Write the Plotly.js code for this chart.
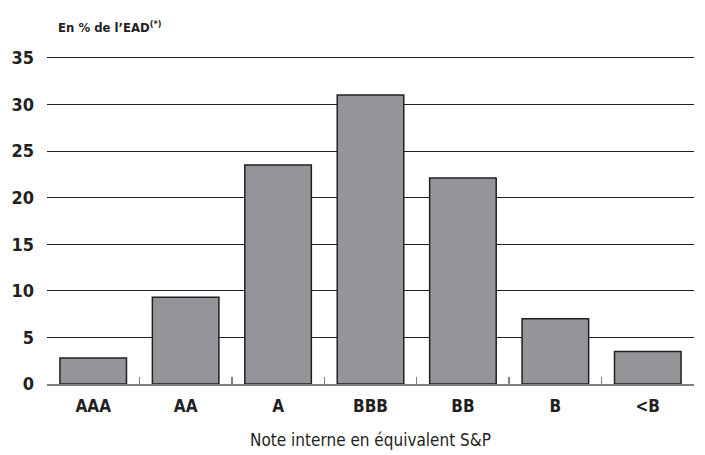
<!DOCTYPE html>
<html><head><meta charset="utf-8">
<script src="https://cdn.plot.ly/plotly-3.0.1.min.js"></script>
<style>body{margin:0;padding:0;background:#fff}#chart{width:705px;height:455px}</style>
</head><body><div id="chart"></div>
<script>
const categories = ["AAA","AA","A","BBB","BB","B","<B"];
const values = [2.8, 9.3, 23.5, 31.0, 22.1, 7.0, 3.5];
const yTicks = [0,5,10,15,20,25,30,35];
const FONT = "'DejaVu Sans Condensed', 'Liberation Sans Narrow', sans-serif";

const trace = {
  type: 'bar',
  x: categories,
  y: values,
  marker: {color: '#939598', line: {color: '#231f20', width: 1.5}},
  hoverinfo: 'x+y'
};
const layout = {
  width: 705, height: 455,
  margin: {l: 47, r: 11, t: 55, b: 71},
  paper_bgcolor: '#fff', plot_bgcolor: '#fff',
  bargap: 0.28,
  showlegend: false,
  font: {family: FONT, color: '#231f20'},
  xaxis: {
    type: 'category',
    tickson: 'boundaries',
    ticks: 'inside', ticklen: 7, tickwidth: 1.5, tickcolor: '#808080',
    showline: true, linecolor: '#808080', linewidth: 2,
    showgrid: false, zeroline: false,
    ticklabelstandoff: 6,
    tickfont: {family: FONT, size: 17, color: '#231f20', weight: 'bold'},
    title: {text: 'Note interne en équivalent S&P', font: {family: FONT, size: 17, color: '#231f20'}, standoff: 19}
  },
  yaxis: {
    range: [0, 35.3],
    tickvals: yTicks,
    ticktext: yTicks.map(String),
    showgrid: true, gridcolor: '#231f20', gridwidth: 1,
    zeroline: false, showline: false, ticks: '',
    ticklabelstandoff: 12,
    tickfont: {family: FONT, size: 18, color: '#231f20', weight: 'bold'}
  },
  annotations: [{
    xref: 'paper', yref: 'paper', x: 0.014, y: 1.055, xanchor: 'left', yanchor: 'bottom',
    text: "<b>En % de l’EAD<sup>(*)</sup></b>", showarrow: false,
    font: {family: FONT, size: 13, color: '#231f20'}
  }]
};
Plotly.newPlot('chart', [trace], layout, {displayModeBar: false, staticPlot: true});
</script></body></html>
